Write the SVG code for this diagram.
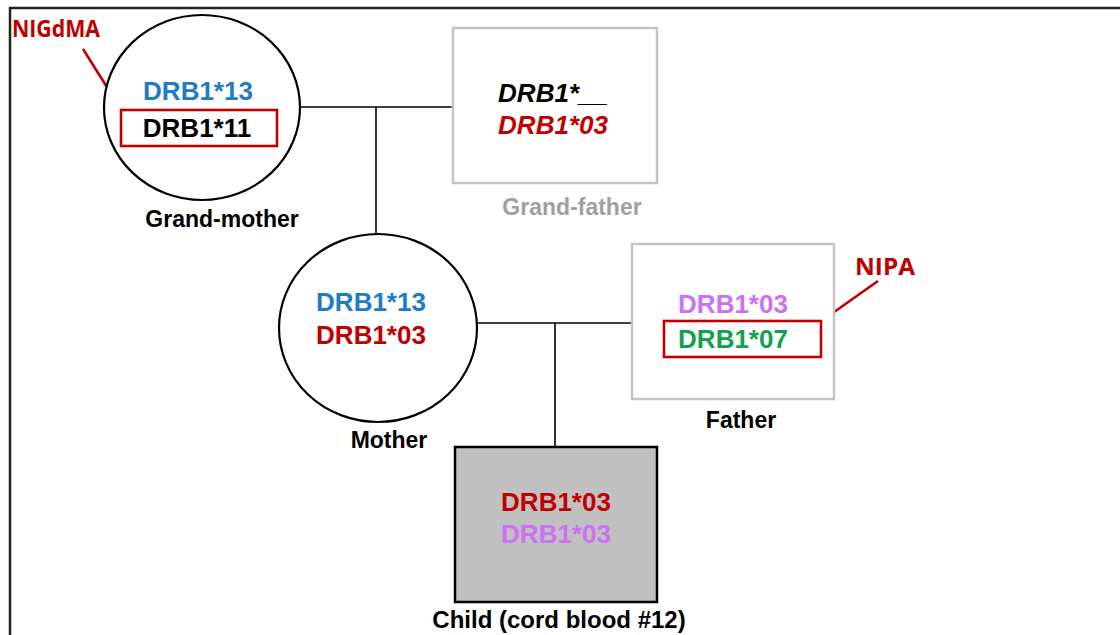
<svg xmlns="http://www.w3.org/2000/svg" width="1120" height="635" viewBox="0 0 1120 635">
<style>
.t{font-family:"Liberation Sans",Arial,sans-serif;font-weight:bold;text-anchor:middle}
.al{font-size:26px}
.lb{font-size:23px;fill:#000}
.blue{fill:#1f7bc4}
.red{fill:#c00000}
.pur{fill:#cc70f5}
.grn{fill:#14a050}
.call{font-family:"Open Sans","Noto Sans",sans-serif;font-weight:bold;font-size:23px;fill:#c00000}
.ln{stroke:#000;stroke-width:1.6;fill:none}
.hl{stroke:#c00000;stroke-width:2.6;fill:none}
</style>
<rect width="1120" height="635" fill="#fff"/>
<path d="M10,635 V8 H1120" fill="none" stroke="#222" stroke-width="2.5"/>
<g id="connectors">
<line class="ln" x1="300" y1="107" x2="453" y2="107"/>
<line class="ln" x1="376" y1="107" x2="376" y2="234"/>
<line class="ln" x1="477" y1="323" x2="632" y2="323"/>
<line class="ln" x1="555" y1="323" x2="555" y2="447"/>
<line class="hl" x1="83" y1="49" x2="122" y2="111"/>
<line class="hl" x1="820" y1="322" x2="878" y2="281"/>
</g>
<g id="grandmother">
<ellipse cx="202" cy="107.5" rx="98" ry="92.5" fill="#fff" stroke="#000" stroke-width="2.2"/>
<text class="t al blue" x="198" y="100">DRB1*13</text>
<rect class="hl" x="121" y="110" width="156" height="36"/>
<text class="t al" x="197" y="137">DRB1*11</text>
<text class="t lb" x="222" y="227">Grand-mother</text>
</g>
<g id="nigdma">
<text class="call" x="12" y="37" textLength="88" lengthAdjust="spacingAndGlyphs">NIGdMA</text>
</g>
<g id="grandfather">
<rect x="453" y="28" width="204" height="155" fill="#fff" stroke="#c4c4c4" stroke-width="2.5"/>
<text class="t al" x="553" y="102" font-style="italic">DRB1*__</text>
<text class="t al red" x="553" y="134" font-style="italic">DRB1*03</text>
<text class="t lb" x="572" y="215" style="fill:#a0a0a0">Grand-father</text>
</g>
<g id="mother">
<ellipse cx="378" cy="328" rx="99" ry="94" fill="#fff" stroke="#000" stroke-width="2.2"/>
<text class="t al blue" x="371" y="311">DRB1*13</text>
<text class="t al red" x="371" y="344">DRB1*03</text>
<text class="t lb" x="389" y="448">Mother</text>
</g>
<g id="father">
<rect x="632" y="244" width="202" height="155" fill="#fff" stroke="#c4c4c4" stroke-width="2.5"/>
<text class="t al pur" x="733" y="313">DRB1*03</text>
<rect class="hl" x="664" y="321" width="157" height="36"/>
<text class="t al grn" x="733" y="348">DRB1*07</text>
<text class="t lb" x="741" y="428">Father</text>
</g>
<g id="nipa">
<text class="call" x="855" y="275" textLength="60" lengthAdjust="spacingAndGlyphs">NIPA</text>
</g>
<g id="child">
<rect x="455" y="447" width="202" height="155" fill="#c0c0c0" stroke="#000" stroke-width="2.5"/>
<text class="t al red" x="556" y="511">DRB1*03</text>
<text class="t al pur" x="556" y="543">DRB1*03</text>
<text class="t lb" x="559" y="628" style="font-size:24px">Child (cord blood #12)</text>
</g>
</svg>
